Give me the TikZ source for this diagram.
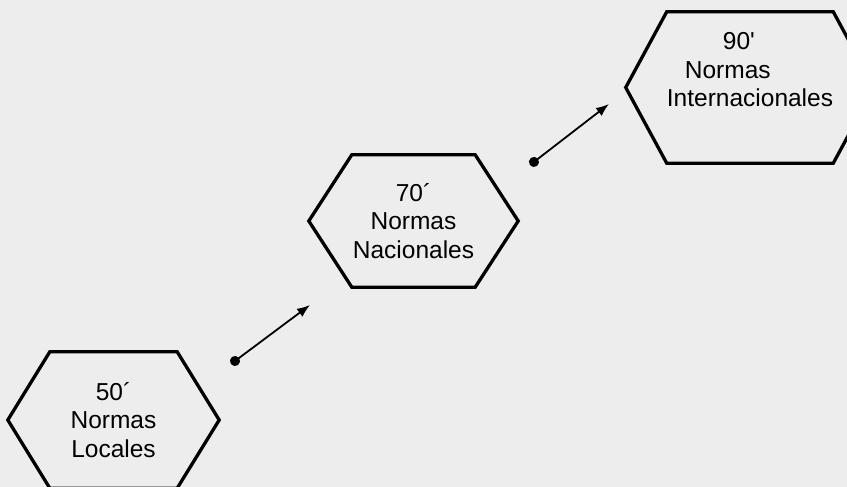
\documentclass[tikz,border=0pt]{standalone}
\usepackage{fontspec}
\setmainfont{Liberation Sans}
\usetikzlibrary{arrows.meta}
\tikzset{
x=1pt,y=1pt,
fondo/.style={fill=black!7},
epoca/.style={inner sep=0pt, align=center, font=\fontsize{24.5}{28.8}\selectfont},
borde/.style={line width=3.3pt, line join=miter},
flecha/.style={line width=1.8pt, {Circle[length=10pt]}-{Latex[length=13pt,width=10pt]}},
}

\begin{document}
\begin{tikzpicture}
\useasboundingbox (0,0) rectangle (847,487);
\fill[fondo] (0,0) rectangle (847,487);

\node[epoca,minimum width=127pt,minimum height=136pt] (h50) at (113.5,67) {50´\\Normas\\Locales};
\node[epoca,minimum width=123pt,minimum height=132pt] (h70) at (413.5,266) {70´\\Normas\\Nacionales};
\node[epoca,align=left,minimum width=124pt,minimum height=151pt] (h90) at (750,399.5)
  {\hspace*{56pt}90\textquotesingle\\\hspace*{18pt}Normas\\Internacionales\\[7pt]\mbox{}};

% hexagons around the nodes
\foreach \h/\d in {h50/42,h70/43,h90/41}
  \draw[borde] (\h.north west) -- (\h.north east) -- ([xshift=\d pt]\h.east)
    -- (\h.south east) -- (\h.south west) -- ([xshift=-\d pt]\h.west) -- cycle;

\coordinate (p1) at (231,123);
\coordinate (q1) at (310,182);
\coordinate (p2) at (530,322);
\coordinate (q2) at (609,383);

\draw[flecha] (p1) -- (q1);
\draw[flecha] (p2) -- (q2);
\end{tikzpicture}
\end{document}
